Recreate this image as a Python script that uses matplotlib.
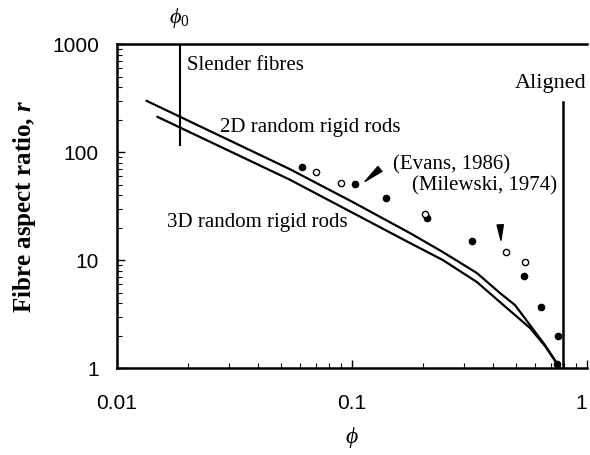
import numpy as np
import matplotlib.pyplot as plt

plt.rcParams['font.family'] = ['Liberation Serif', 'DejaVu Serif']
plt.rcParams['mathtext.fontset'] = 'custom'
plt.rcParams['mathtext.rm'] = 'Liberation Serif'
plt.rcParams['mathtext.it'] = 'Liberation Serif:italic'
plt.rcParams['mathtext.bf'] = 'Liberation Serif:bold'
plt.rcParams['mathtext.bfit'] = 'Liberation Serif:italic:bold'
plt.rcParams['mathtext.fallback'] = 'stix'

# 2D random rigid rods (upper curve)
phi_2d = [0.0134, 0.0544, 0.101, 0.1765, 0.2439, 0.3402, 0.4265, 0.4939, 0.5722, 0.6628, 0.7675]
r_2d = [298, 69.6, 34.4, 17.8, 11.86, 7.58, 4.95, 3.83, 2.50, 1.63, 1.0]

# 3D random rigid rods (lower curve)
phi_3d = [0.0149, 0.0544, 0.1765, 0.2439, 0.3402, 0.4265, 0.5722, 0.6628, 0.7675]
r_3d = [212, 55.6, 14.4, 10.0, 6.26, 4.08, 2.35, 1.60, 1.0]

# experimental points
phi_filled = [0.0611, 0.103, 0.1397, 0.209, 0.325, 0.541, 0.635, 0.755, 0.748]
r_filled = [73.1, 50.2, 37.3, 24.8, 15.1, 7.11, 3.70, 1.98, 1.1]
phi_open = [0.0703, 0.0895, 0.205, 0.452, 0.546]
r_open = [65.7, 52.0, 26.7, 11.8, 9.64]

phi_0 = 0.0185
phi_aligned = 0.79

fig = plt.figure(figsize=(5.9, 4.55), dpi=100)
ax = fig.add_axes([0.198, 0.191, 0.797, 0.712])
ax.set_xscale('log')
ax.set_yscale('log')
ax.set_xlim(0.01, 1)
ax.set_ylim(1, 1000)

ax.plot(phi_2d, r_2d, color='black', lw=1.6)
ax.plot(phi_3d, r_3d, color='black', lw=1.6)
ax.plot(phi_filled, r_filled, 'o', color='black', ms=4.5, zorder=3)
ax.plot(phi_open, r_open, 'o', mfc='white', mec='black', mew=1.0, ms=4.5, zorder=3)

# limit lines
ax.plot([phi_0, phi_0], [116, 1000], color='black', lw=1.5)
ax.plot([phi_aligned, phi_aligned], [1, 290], color='black', lw=1.8)

fs = 15
ax.text(0.0199, 640, 'Slender fibres', fontsize=fs, va='center', ha='left')
ax.text(0.995, 435, 'Aligned', fontsize=16, va='center', ha='right')
ax.text(0.0275, 170, '2D random rigid rods', fontsize=fs, va='center', ha='left')
ax.text(0.0163, 22.5, '3D random rigid rods', fontsize=fs, va='center', ha='left')
ax.text(0.149, 76, '(Evans, 1986)', fontsize=fs, va='center', ha='left')
ax.text(0.18, 48.4, '(Milewski, 1974)', fontsize=fs, va='center', ha='left')

ax.annotate('', xy=(0.1114, 51.6), xytext=(0.1343, 72.6),
            arrowprops=dict(arrowstyle='wedge,tail_width=0.45', color='black'))
ax.annotate('', xy=(0.431, 14.4), xytext=(0.4266, 22.5),
            arrowprops=dict(arrowstyle='wedge,tail_width=0.45', color='black'))

ax.text(phi_0, 1.08, r'$\phi_0$', transform=ax.get_xaxis_transform(),
        fontsize=16, ha='center', va='center')

ax.set_xticks([0.01, 0.1, 1])
ax.set_xticklabels(['0.01', '0.1', '1'])
ax.set_yticks([1, 10, 100, 1000])
ax.set_yticklabels(['1', '10', '100', '1000'])
for lab in ax.get_xticklabels() + ax.get_yticklabels():
    lab.set_family(['Liberation Sans', 'DejaVu Sans'])
    lab.set_fontsize(15)
ax.get_xticklabels()[-1].set_horizontalalignment('right')

ax.tick_params(which='both', direction='in', top=False, right=False)
ax.tick_params(which='major', length=6, width=1.0)
ax.tick_params(which='minor', length=3.5, width=0.8)
ax.tick_params(axis='x', pad=19)
ax.tick_params(axis='y', pad=13)

for side in ['left', 'bottom', 'top']:
    ax.spines[side].set_linewidth(1.8)
ax.spines['right'].set_visible(False)

ax.set_xlabel(r'$\phi$', fontsize=17, labelpad=8)
ax.set_ylabel(r'Fibre aspect ratio, $\mathbfit{r}$', fontsize=18,
              fontweight='bold', labelpad=10)

fig.savefig('out.png', dpi=100)
